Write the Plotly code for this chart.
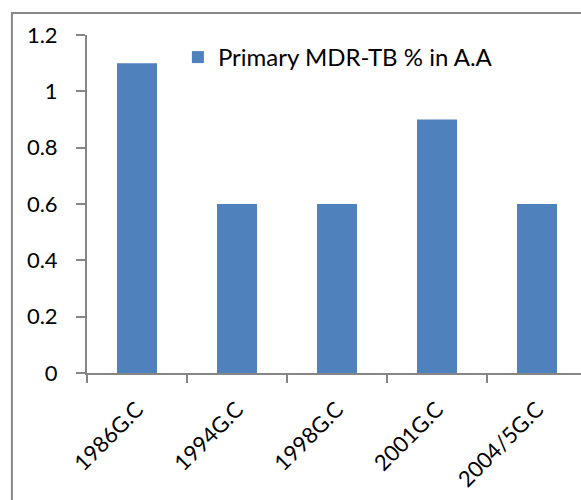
import plotly.graph_objects as go

categories = ["1986G.C", "1994G.C", "1998G.C", "2001G.C", "2004/5G.C"]
values = [1.1, 0.6, 0.6, 0.9, 0.6]
series_name = "Primary MDR-TB % in A.A"
y_ticks = [0, 0.2, 0.4, 0.6, 0.8, 1, 1.2]

FONT = "Lato"
AXIS_COLOR = "#868686"

fig = go.Figure()
fig.add_trace(go.Bar(
    x=categories, y=values, name=series_name,
    marker=dict(color="#4F81BD", line=dict(width=0)),
    showlegend=True,
))

fig.update_layout(
    width=581, height=500,
    margin=dict(l=87, r=0, t=35, b=127, autoexpand=False),
    paper_bgcolor="white", plot_bgcolor="white",
    font=dict(family=FONT, size=22, color="black"),
    bargap=0.6,
    showlegend=True,
    legend=dict(x=0.184, y=1.0, xanchor="left", yanchor="top",
                bgcolor="rgba(0,0,0,0)", font=dict(size=24, family=FONT),
                itemwidth=30, tracegroupgap=0),
    xaxis=dict(
        type="category", range=[-0.5, 4.44], automargin=False,
        showline=True, linecolor=AXIS_COLOR, linewidth=2,
        ticks="outside", tickson="boundaries", ticklen=8, tickcolor=AXIS_COLOR, tickwidth=2,
        tickangle=-45, showgrid=False, zeroline=False,
        ticklabelstandoff=13,
        tickfont=dict(size=22, family=FONT),
    ),
    yaxis=dict(
        range=[0, 1.2], tickvals=y_ticks, ticktext=[f"{v:g}" for v in y_ticks],
        automargin=False,
        showline=True, linecolor=AXIS_COLOR, linewidth=2,
        ticks="outside", ticklen=9, tickcolor=AXIS_COLOR, tickwidth=2,
        showgrid=False, zeroline=False,
        ticklabelstandoff=14,
        tickfont=dict(size=22, family=FONT),
    ),
    shapes=[dict(
        type="rect", xref="paper", yref="paper",
        x0=-0.152, x1=1.3, y0=-0.7, y1=1.065,
        line=dict(color="#878787", width=2), fillcolor="rgba(0,0,0,0)", layer="below",
    )],
)

fig.write_html("out.html",
               config={"displayModeBar": False},
               post_script="document.body.style.margin='0';document.body.style.padding='0';")
